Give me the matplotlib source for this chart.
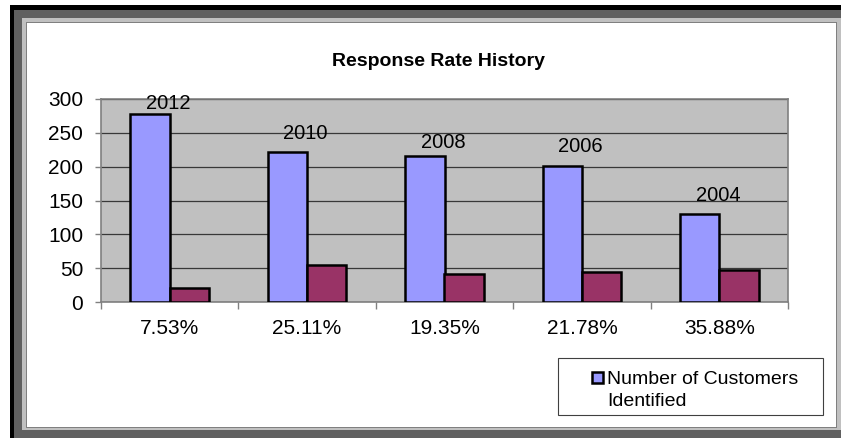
import numpy as np
import matplotlib.pyplot as plt
from matplotlib.patches import Rectangle

# values
rates = ["7.53%", "25.11%", "19.35%", "21.78%", "35.88%"]
years = ["2012", "2010", "2008", "2006", "2004"]
customers_identified = [278, 222, 216, 201, 130]
responders = [21, 55, 42, 44, 47]

plt.rcParams['font.family'] = ['Liberation Sans', 'DejaVu Sans']

W, H = 841, 438
fig = plt.figure(figsize=(W / 100, H / 100), dpi=100)


def box(x0, y0, x1, y1, color, z=-5, **kw):
    # pixel box (origin top-left) -> figure fraction
    r = Rectangle((x0 / W, 1 - y1 / H), (x1 - x0) / W, (y1 - y0) / H,
                  transform=fig.transFigure, facecolor=color, edgecolor='none',
                  zorder=z, **kw)
    fig.patches.append(r)
    return r


# the window frame around the chart
box(10, 5, 841, 438, 'black')
box(14, 10, 841, 438, '#606060')
box(22, 18, 841, 430, '#c0c0c0')
box(26, 22, 837, 428, '#808080')
box(27, 23, 836, 427, 'white')

ax = fig.add_axes([101 / W, 1 - 302 / H, 687 / W, 203 / H])
ax.set_facecolor('#c0c0c0')

x = np.arange(len(rates))
w = 0.286
ax.bar(x - w / 2, customers_identified, w, color='#9999ff', edgecolor='black',
       linewidth=1.8, zorder=3)
ax.bar(x + w / 2, responders, w, color='#993366', edgecolor='black',
       linewidth=1.8, zorder=3)

# year labels above the blue bars (gap in px between bar top and text baseline)
label_pad = [5, 13, 8, 14, 13]
for i, yr in enumerate(years):
    ax.annotate(yr, (x[i], customers_identified[i]), xytext=(-1, label_pad[i] * 0.72),
                textcoords='offset points', ha='center', va='baseline', fontsize=14.5,
                zorder=4)

ax.set_xlim(-0.5, len(rates) - 0.5)
ax.set_ylim(0, 300)
ax.set_yticks(range(0, 301, 50))
ax.yaxis.grid(True, color='#383838', linewidth=0.9)
ax.set_axisbelow(True)
ax.set_xticks(x)
ax.set_xticklabels(rates)
ax.set_xticks(np.arange(-0.5, len(rates)), minor=True)
ax.tick_params(axis='x', which='major', length=0, pad=12, labelsize=15)
ax.tick_params(axis='x', which='minor', length=4.8, color='#808080', width=1)
ax.tick_params(axis='y', length=4.3, color='#808080', width=1, pad=8.6, labelsize=15)
for s in ax.spines.values():
    s.set_color('#808080')
    s.set_linewidth(1.2)

fig.text(438 / W, 1 - 66 / H, "Response Rate History", ha='center', va='baseline',
         fontsize=14, fontweight='bold')

# legend box (only the first series is visible in the reference)
lg = box(558, 358, 823, 415, 'white', z=5)
lg.set_edgecolor('#404040')
lg.set_linewidth(0.8)
box(592, 372, 603, 383, '#9999ff', z=6, linewidth=1.8).set_edgecolor('black')
fig.text(607 / W, 1 - 384 / H, "Number of Customers", ha='left', va='baseline',
         fontsize=14, zorder=7)
fig.text(607 / W, 1 - 405.5 / H, "Identified", ha='left', va='baseline',
         fontsize=14, zorder=7)

fig.savefig('out.png', dpi=100)
